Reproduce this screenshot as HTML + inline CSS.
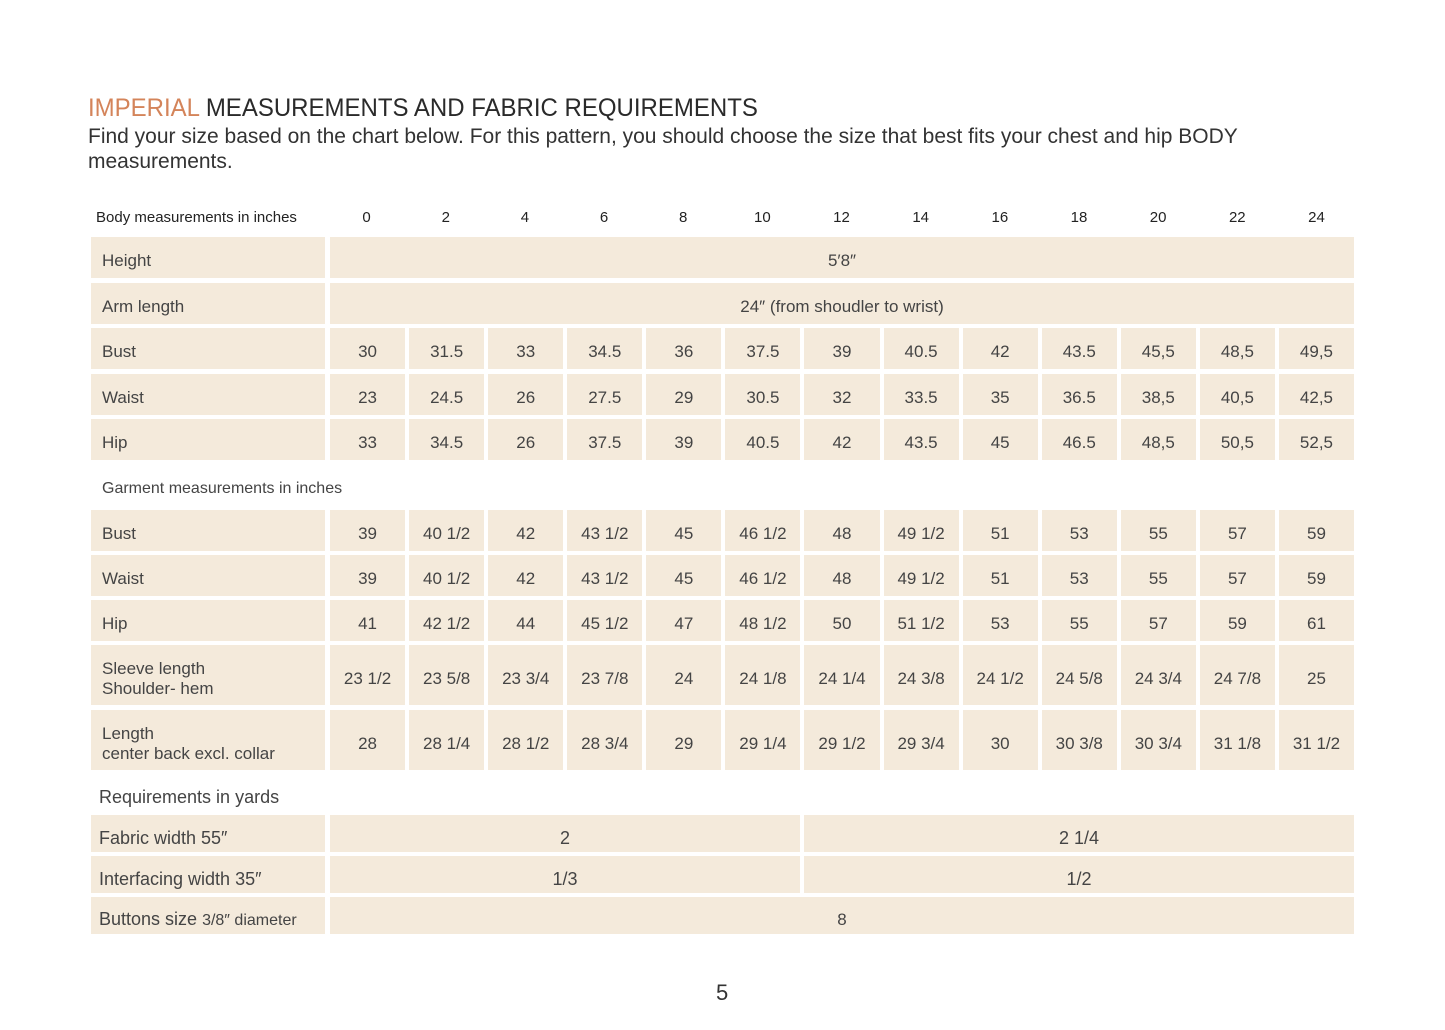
<!DOCTYPE html>
<html><head><meta charset="utf-8"><style>
body{margin:0;width:1445px;height:1030px;background:#fff;position:relative;font-family:"Liberation Sans",sans-serif;color:#333;overflow:hidden}
.t{position:absolute;left:88px;top:94px;font-size:25px;white-space:nowrap;transform-origin:left top;transform:scaleX(.96);color:#2a2a2a}
.t span{color:#d4845a}
.s{position:absolute;left:88px;top:124px;font-size:21px;line-height:25px;width:1250px;color:#333}
.r{position:absolute;left:91px;width:1263px;display:flex;gap:4px}
.r>div{background:#f4eadb;display:flex;align-items:center;justify-content:center;font-size:17px;color:#444;flex:1;text-align:center;padding-top:7px;box-sizing:border-box}
.r>div.l{flex:0 0 234px;margin-right:1px;justify-content:flex-start;padding-left:11px;text-align:left;line-height:20px}
.r>div.s13{flex:0 0 1024px}
.r>div.s6{flex:0 0 470px}
.r>div.s7{flex:0 0 550px}
.h{position:absolute;left:91px;width:1263px;display:flex;gap:4px;top:209px;font-size:15px;color:#222}
.h>div{flex:1;text-align:center}
.h>div.l{flex:0 0 229px;padding-left:5px;text-align:left}
.lab{position:absolute;font-size:16px;color:#444}
.q>div{padding-top:9px!important}
.q .l{font-size:18px;padding-left:8px!important}
.q>div{font-size:18px}
</style></head><body>
<div class="t"><span>IMPERIAL</span> MEASUREMENTS AND FABRIC REQUIREMENTS</div>
<div class="s">Find your size based on the chart below. For this pattern, you should choose the size that best fits your chest and hip BODY measurements.</div>
<div class="h"><div class="l">Body measurements in inches</div><div>0</div><div>2</div><div>4</div><div>6</div><div>8</div><div>10</div><div>12</div><div>14</div><div>16</div><div>18</div><div>20</div><div>22</div><div>24</div></div>
<div class="r" style="top:237px;height:41px"><div class="l">Height</div><div class="s13">5′8″</div></div>
<div class="r" style="top:283px;height:41px"><div class="l">Arm length</div><div class="s13">24″ (from shoudler to wrist)</div></div>
<div class="r" style="top:328px;height:41px"><div class="l">Bust</div><div>30</div><div>31.5</div><div>33</div><div>34.5</div><div>36</div><div>37.5</div><div>39</div><div>40.5</div><div>42</div><div>43.5</div><div>45,5</div><div>48,5</div><div>49,5</div></div>
<div class="r" style="top:374px;height:41px"><div class="l">Waist</div><div>23</div><div>24.5</div><div>26</div><div>27.5</div><div>29</div><div>30.5</div><div>32</div><div>33.5</div><div>35</div><div>36.5</div><div>38,5</div><div>40,5</div><div>42,5</div></div>
<div class="r" style="top:419px;height:41px"><div class="l">Hip</div><div>33</div><div>34.5</div><div>26</div><div>37.5</div><div>39</div><div>40.5</div><div>42</div><div>43.5</div><div>45</div><div>46.5</div><div>48,5</div><div>50,5</div><div>52,5</div></div>
<div class="lab" style="left:102px;top:480px">Garment measurements in inches</div>
<div class="r" style="top:510px;height:41px"><div class="l">Bust</div><div>39</div><div>40 1/2</div><div>42</div><div>43 1/2</div><div>45</div><div>46 1/2</div><div>48</div><div>49 1/2</div><div>51</div><div>53</div><div>55</div><div>57</div><div>59</div></div>
<div class="r" style="top:555px;height:41px"><div class="l">Waist</div><div>39</div><div>40 1/2</div><div>42</div><div>43 1/2</div><div>45</div><div>46 1/2</div><div>48</div><div>49 1/2</div><div>51</div><div>53</div><div>55</div><div>57</div><div>59</div></div>
<div class="r" style="top:600px;height:41px"><div class="l">Hip</div><div>41</div><div>42 1/2</div><div>44</div><div>45 1/2</div><div>47</div><div>48 1/2</div><div>50</div><div>51 1/2</div><div>53</div><div>55</div><div>57</div><div>59</div><div>61</div></div>
<div class="r" style="top:645px;height:60px"><div class="l">Sleeve length<br>Shoulder- hem</div><div>23 1/2</div><div>23 5/8</div><div>23 3/4</div><div>23 7/8</div><div>24</div><div>24 1/8</div><div>24 1/4</div><div>24 3/8</div><div>24 1/2</div><div>24 5/8</div><div>24 3/4</div><div>24 7/8</div><div>25</div></div>
<div class="r" style="top:710px;height:60px"><div class="l">Length<br>center back excl. collar</div><div>28</div><div>28 1/4</div><div>28 1/2</div><div>28 3/4</div><div>29</div><div>29 1/4</div><div>29 1/2</div><div>29 3/4</div><div>30</div><div>30 3/8</div><div>30 3/4</div><div>31 1/8</div><div>31 1/2</div></div>
<div class="lab" style="left:99px;top:787px;font-size:18px">Requirements in yards</div>
<div class="r q" style="top:815px;height:37px"><div class="l">Fabric width 55″</div><div class="s6">2</div><div class="s7">2 1/4</div></div>
<div class="r q" style="top:856px;height:37px"><div class="l">Interfacing width 35″</div><div class="s6">1/3</div><div class="s7">1/2</div></div>
<div class="r q" style="top:897px;height:37px"><div class="l"><span>Buttons size&nbsp;<span style="font-size:16px">3/8″ diameter</span></span></div><div class="s13" style="font-size:17px">8</div></div>
<div class="lab" style="left:716px;top:980px;font-size:22px;color:#333">5</div>
</body></html>
